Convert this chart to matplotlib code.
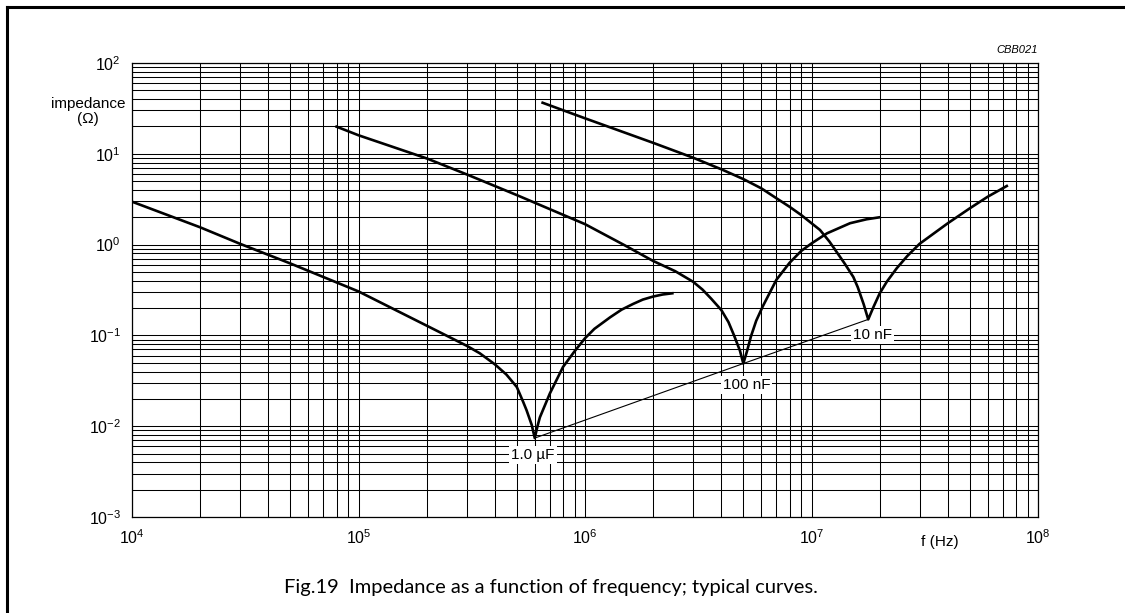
import numpy as np
import matplotlib
matplotlib.use("Agg")
import matplotlib.pyplot as plt
from matplotlib.ticker import LogLocator, NullFormatter, FixedLocator, FuncFormatter
from matplotlib.lines import Line2D

plt.rcParams['font.family'] = ['Liberation Sans', 'DejaVu Sans']
plt.rcParams['mathtext.fontset'] = 'custom'
plt.rcParams['mathtext.rm'] = 'Liberation Sans'
plt.rcParams['mathtext.it'] = 'Liberation Sans:italic'

# 1.0 uF curve
f_1uf = [1e4, 2e4, 3e4, 5e4, 1e5, 2e5, 3e5, 3.43e5, 4e5, 4.5e5, 5e5, 5.33e5, 5.52e5,
         5.82e5, 6.0e5, 6.17e5, 6.32e5, 7e5, 8e5, 9e5, 1e6, 1.1e6, 1.29e6, 1.45e6,
         1.63e6, 1.8e6, 2e6, 2.2e6, 2.43e6]
z_1uf = [2.97, 1.55, 1.02, 0.62, 0.305, 0.128, 0.077, 0.0636, 0.048, 0.037, 0.027, 0.0186, 0.015,
         0.0103, 0.0074, 0.0100, 0.0125, 0.023, 0.045, 0.067, 0.093, 0.118, 0.158, 0.192,
         0.222, 0.248, 0.268, 0.282, 0.291]

# 100 nF curve
f_100nf = [8e4, 1e5, 2e5, 3e5, 5e5, 1e6, 1.5e6, 2e6, 2.5e6, 3e6, 3.3e6, 3.6e6, 4e6, 4.3e6,
           4.55e6, 4.83e6, 5.0e6, 5.2e6, 5.4e6, 5.7e6, 6.1e6, 7e6, 8e6, 9e6, 1e7, 1.17e7,
           1.48e7, 1.75e7, 2e7]
z_100nf = [19.9, 16.0, 8.9, 5.94, 3.51, 1.68, 0.98, 0.66, 0.51, 0.39, 0.32, 0.255, 0.19, 0.14,
           0.10, 0.068, 0.049, 0.068, 0.097, 0.145, 0.21, 0.41, 0.63, 0.85, 1.03, 1.33,
           1.72, 1.9, 2.0]

# 10 nF curve
f_10nf = [6.5e5, 1e6, 2e6, 3e6, 4e6, 5e6, 6e6, 7e6, 8e6, 9e6, 1e7, 1.09e7, 1.2e7, 1.4e7,
          1.53e7, 1.6e7, 1.7e7, 1.78e7, 1.88e7, 2e7, 2.15e7, 2.38e7, 2.65e7, 3e7, 4e7, 5e7,
          6e7, 7.28e7]
z_10nf = [36.5, 24.6, 13.2, 9.06, 6.75, 5.27, 4.17, 3.24, 2.61, 2.12, 1.72, 1.45, 1.08, 0.62,
          0.44, 0.34, 0.22, 0.150, 0.207, 0.29, 0.39, 0.55, 0.75, 1.02, 1.72, 2.51,
          3.37, 4.42]

# resonance minima (joined by thin line) and their labels
f_min = [6.0e5, 5.0e6, 1.78e7]
z_min = [0.0074, 0.049, 0.150]
labels = ['1.0 µF', '100 nF', '10 nF']
label_f = [5.89e5, 5.17e6, 1.86e7]
label_z = [4.8e-3, 0.0284, 0.101]

fig = plt.figure(figsize=(11.25, 6.13), dpi=100)
ax = fig.add_axes([132/1125, 1 - 517/613, 906/1125, 454/613])

ax.set_xscale('log')
ax.set_yscale('log')
ax.set_xlim(1e4, 1e8)
ax.set_ylim(1e-3, 1e2)

sub = np.arange(2, 10)
ax.xaxis.set_major_locator(FixedLocator([1e4, 1e5, 1e6, 1e7, 1e8]))
ax.yaxis.set_major_locator(FixedLocator([1e-3, 1e-2, 1e-1, 1e0, 1e1, 1e2]))
ax.xaxis.set_minor_locator(LogLocator(base=10, subs=sub, numticks=100))
ax.yaxis.set_minor_locator(LogLocator(base=10, subs=sub, numticks=100))
ax.xaxis.set_minor_formatter(NullFormatter())
ax.yaxis.set_minor_formatter(NullFormatter())
fmt = FuncFormatter(lambda v, p: r'$10^{%d}$' % round(np.log10(v)))
ax.xaxis.set_major_formatter(fmt)
ax.yaxis.set_major_formatter(fmt)
ax.tick_params(which='both', length=0, labelsize=11.5)
ax.tick_params(axis='x', pad=8)
ax.tick_params(axis='y', pad=8)
ax.grid(which='both', color='black', linewidth=0.75)
ax.set_axisbelow(True)
for s in ax.spines.values():
    s.set_linewidth(0.9)

for f, z in [(f_1uf, z_1uf), (f_100nf, z_100nf), (f_10nf, z_10nf)]:
    ax.plot(f, z, color='black', linewidth=1.9, zorder=3)

ax.plot(f_min, z_min, color='black', linewidth=0.8, zorder=3)
for t, lf, lz in zip(labels, label_f, label_z):
    ax.text(lf, lz, t, ha='center', va='center', fontsize=11, zorder=4,
            bbox=dict(facecolor='white', edgecolor='none', pad=1.5))

ax.text(-0.0486, 0.894, 'impedance\n(Ω)', transform=ax.transAxes, ha='center',
        va='center', fontsize=11, linespacing=1.1)
ax.text(0.892, -0.055, 'f (Hz)', transform=ax.transAxes, ha='center', va='center',
        fontsize=11)
ax.text(1.0, 1.0286, 'CBB021', transform=ax.transAxes, ha='right', va='center',
        fontsize=8, style='italic')

fig.text(551/1125, 1 - 587/613, 'Fig.19  Impedance as a function of frequency; typical curves.',
         ha='center', va='center', fontsize=14.5, family=['Lato', 'DejaVu Sans'])

# page frame (left and top edges)
fig.add_artist(Line2D([7/1125, 7/1125], [0, 1 - 7/613], color='black', linewidth=2.2,
                      transform=fig.transFigure))
fig.add_artist(Line2D([7/1125, 1], [1 - 7/613, 1 - 7/613], color='black', linewidth=2.2,
                      transform=fig.transFigure))

fig.savefig('out.png', dpi=100)
